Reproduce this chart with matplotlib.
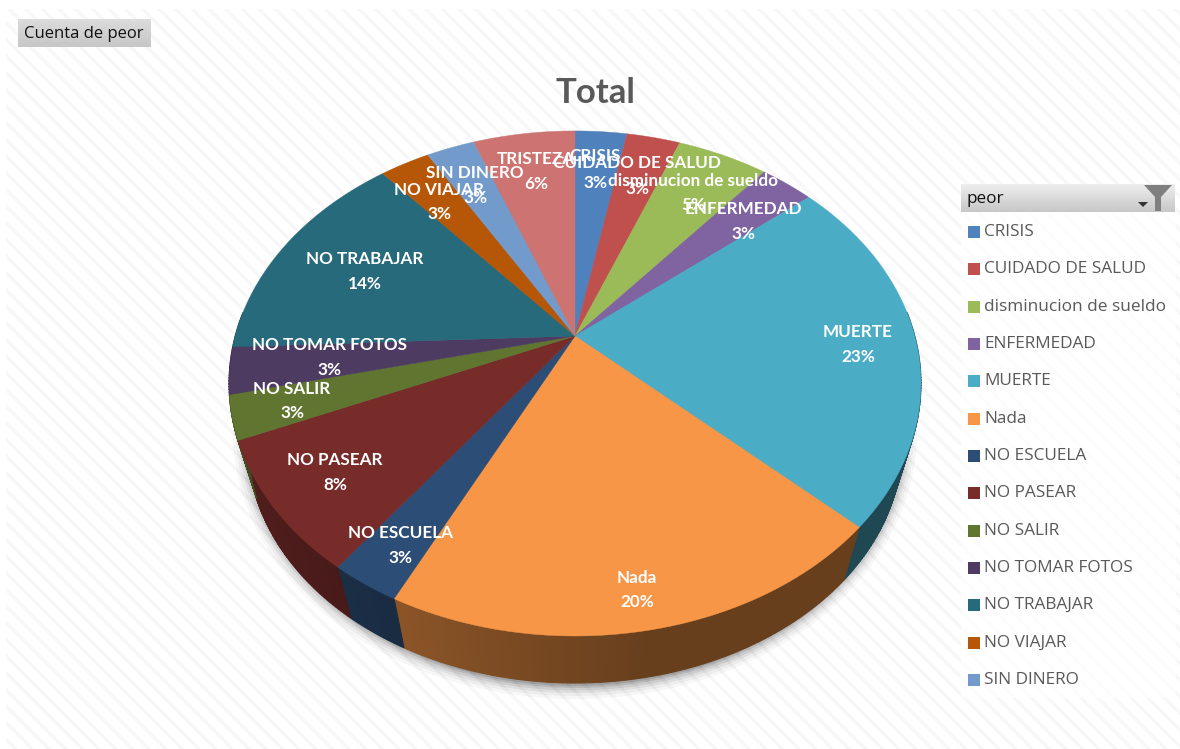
import numpy as np
import matplotlib
matplotlib.use("Agg")
import matplotlib.pyplot as plt
from matplotlib.patches import Polygon, Rectangle, Ellipse

categories = ["CRISIS", "CUIDADO DE SALUD", "disminucion de sueldo", "ENFERMEDAD", "MUERTE", "Nada",
              "NO ESCUELA", "NO PASEAR", "NO SALIR", "NO TOMAR FOTOS", "NO TRABAJAR", "NO VIAJAR",
              "SIN DINERO", "TRISTEZA"]
# slice sizes, the printed labels are rounded
shares = [2.9, 3.0, 5.1, 3.0, 23.0, 20.3, 2.8, 8.4, 2.8, 3.0, 14.5, 2.8, 2.7, 5.7]
percent = [3, 3, 5, 3, 23, 20, 3, 8, 3, 3, 14, 3, 3, 6]
colors = ["#4F81BD", "#C0504D", "#9BBB59", "#8064A2", "#4BACC6", "#F79646", "#2C4D75",
          "#772C2A", "#5F7530", "#4D3B62", "#276A7C", "#B65708", "#729ACA", "#CD7371"]
# the legend in the picture stops before TRISTEZA
legend_names = categories[:13]

# label centres: name x, name y, percent y
label_pos = [(595, 156, 183), (637, 163, 189), (693, 181, 205), (743, 209, 234), (858, 332, 357),
             (637, 578, 602), (400, 533, 558), (335, 460, 485), (292, 389, 413), (329, 345, 370),
             (365, 259, 284), (439, 190, 214), (475, 173, 198), (536, 159, 184)]

APEX = (575, 336)
A, B, K = 339.8, 243.6, 0.188
DROP, SHRINK = 63.5, 0.945

plt.rcParams["hatch.linewidth"] = 2.2
plt.rcParams["hatch.color"] = "#f7f7f7"


def project(theta, r=1.0):
    """pie plane to screen, theta clockwise from the top"""
    u, v = r * np.sin(theta), r * np.cos(theta)
    d = 1 + K * v
    return APEX[0] + A * u / d, APEX[1] - B * v / d


def project_low(theta):
    x, y = project(theta)
    return APEX[0] + (x - APEX[0]) * SHRINK, APEX[1] + DROP + (y - APEX[1]) * SHRINK


def shade(hex_color, f):
    return tuple(c * f for c in matplotlib.colors.to_rgb(hex_color))


def wall_factor(theta):
    """side wall is flat on the right and lightens past the front"""
    deg = np.degrees(theta)
    return np.interp(deg, [0, 170, 205, 235, 360], [0.42, 0.42, 0.56, 0.66, 0.66])


fig = plt.figure(figsize=(11.8, 7.49), dpi=100)
ax = fig.add_axes([0, 0, 1, 1])
ax.set_xlim(0, 1180)
ax.set_ylim(749, 0)
ax.axis("off")

# hatched chart area
ax.add_patch(Rectangle((6, 9), 1174, 740, facecolor="white", edgecolor="#f7f7f7", hatch="\\\\", lw=0, zorder=0))

# soft shadow under the pie
for grow, alpha in zip([30, 24, 18, 13, 8, 4], [0.03, 0.04, 0.06, 0.08, 0.1, 0.12]):
    ax.add_patch(Ellipse((575, 432), 2 * 327 + grow, 2 * 252 + grow, facecolor="black", alpha=alpha, lw=0, zorder=1))

edges = 2 * np.pi * np.cumsum([0] + shares) / sum(shares)

# side wall, in thin strips so it can change tone along the front
for i, name in enumerate(categories):
    t = np.linspace(edges[i], edges[i + 1], max(3, percent[i] * 6))
    for a, b in zip(t[:-1], t[1:]):
        mid = (a + b) / 2
        if np.cos(mid) > 0.1:
            continue
        c = shade(colors[i], wall_factor(mid))
        pts = [project(a), project(b), project_low(b), project_low(a)]
        ax.add_patch(Polygon(pts, facecolor=c, edgecolor=c, lw=0.8, zorder=2))

# top face
for i, name in enumerate(categories):
    t = np.linspace(edges[i], edges[i + 1], 60)
    x, y = project(t)
    pts = [APEX] + list(zip(x, y))
    ax.add_patch(Polygon(pts, facecolor=colors[i], edgecolor=colors[i], lw=0.3, zorder=3))

for i, name in enumerate(categories):
    lx, ny, py = label_pos[i]
    ax.text(lx, ny, name, color="white", family="Lato", weight="bold", fontsize=12.3, ha="center", va="center", zorder=5)
    ax.text(lx, py, str(percent[i]) + "%", color="white", family="Lato", weight="bold", fontsize=12.3, ha="center", va="center", zorder=5)

ax.text(595, 93, "Total", color="#595959", family="Lato", weight="bold", fontsize=25, ha="center", va="center", zorder=5)

# field button
ax.imshow(np.linspace(0.86, 0.78, 20).reshape(-1, 1), cmap="gray", vmin=0, vmax=1, extent=(18, 151, 47, 19), aspect="auto", zorder=4)
ax.text(24, 34, "Cuenta de peor", color="#111111", family="Open Sans", fontsize=12, ha="left", va="center", zorder=5)

# legend box with its filter header
ax.add_patch(Rectangle((961, 211), 215, 487, facecolor="white", alpha=0.75, lw=0, zorder=3))
ax.imshow(np.linspace(0.93, 0.78, 30).reshape(-1, 1), cmap="gray", vmin=0, vmax=1, extent=(961, 1175, 212, 184), aspect="auto", zorder=4)
ax.set_xlim(0, 1180)
ax.set_ylim(749, 0)
ax.text(966, 199, "peor", color="#111111", family="Open Sans", fontsize=12.3, ha="left", va="center", zorder=5)
ax.add_patch(Polygon([(1144, 185), (1172, 185), (1161, 197), (1161, 211), (1155, 211), (1155, 197)], facecolor="#7f7f7f", lw=0, zorder=5))
ax.add_patch(Polygon([(1138, 202), (1148, 202), (1143, 207)], facecolor="#333333", lw=0, zorder=5))

for i, name in enumerate(legend_names):
    y = 232 + i * (679 - 231) / 12
    ax.add_patch(Rectangle((968, y - 6), 12, 12, facecolor=colors[i], lw=0, zorder=5))
    ax.text(984, y, name, color="#595959", family="Open Sans", fontsize=12.4, ha="left", va="center", zorder=5)

fig.savefig("out.png", dpi=100)
